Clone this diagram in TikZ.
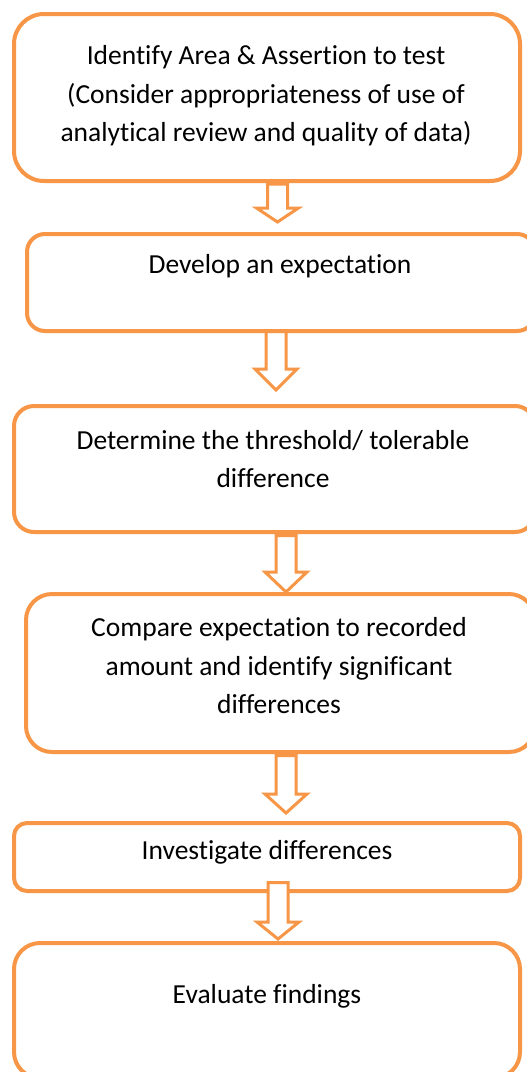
\documentclass[tikz,border=0pt]{standalone}
\usepackage{fontspec}
\setmainfont[Ligatures=NoCommon]{Carlito}
\usetikzlibrary{calc}
\definecolor{orng}{HTML}{F79646}
\tikzset{
  stepbox/.style={draw=orng, line width=4pt, fill=white, rectangle, inner sep=0pt},
  steptext/.style={align=center, font=\fontsize{27.5}{38.5}\selectfont, inner sep=0pt, text=black},
  blockarrow/.style={draw=orng, line width=3pt, fill=white, line join=miter}
}
\newcommand\flowarrow[3]{%
  \draw[blockarrow] ($(#1)+(-10,0)$) -- ($(#2)+(-10,-#3)$) -- ($(#2)+(-21,-#3)$) -- (#2)
    -- ($(#2)+(21,-#3)$) -- ($(#2)+(10,-#3)$) -- ($(#1)+(10,0)$) -- cycle;}
\begin{document}
\begin{tikzpicture}[x=1pt,y=-1pt]
\useasboundingbox (0,0) rectangle (527,1072);
\clip (0,0) rectangle (527,1072);
\fill[white] (0,0) rectangle (527,1072);
% boxes
\node[stepbox, rounded corners=30pt, minimum width=506pt, minimum height=167pt] (b1) at (267,97.5) {};
\node[stepbox, rounded corners=18pt, minimum width=508pt, minimum height=97pt] (b2) at (281,282.5) {};
\node[stepbox, rounded corners=20pt, minimum width=521pt, minimum height=126pt] (b3) at (274.5,469) {};
\node[stepbox, rounded corners=26pt, minimum width=509pt, minimum height=158pt] (b4) at (280.5,673) {};
\node[stepbox, rounded corners=13pt, minimum width=506pt, minimum height=68pt] (b5) at (267,857) {};
\node[stepbox, rounded corners=26pt, minimum width=506pt, minimum height=135pt] (b6) at (267,1010.5) {};
% texts
\node[steptext] (t1) at (266,96) {Identify Area \& Assertion to test\\(Consider appropriateness of use of\\analytical review and quality of data)};
\node[steptext] (t2) at (280,266) {Develop an expectation};
\node[steptext] (t3) at (273,459) {Determine the threshold/ tolerable\\difference};
\node[steptext] (t4) at (279,666) {Compare expectation to recorded\\amount and identify significant\\differences};
\node[steptext] (t5) at (267,852) {Investigate differences};
\node[steptext] (t6) at (267,996) {Evaluate findings};
% arrow anchors
\path (b1.south) ++(10.5,1) coordinate (s1);
\path (b2.north) ++(-3.5,-10) coordinate (e1);
\path (b2.south) ++(-5,-1.5) coordinate (s2);
\path (b3.north) ++(1.5,-14) coordinate (e2);
\path (b3.south) ++(11.5,1.5) coordinate (s3);
\path (b4.north) ++(5.5,0) coordinate (e3);
\path (b4.south) ++(5.5,1.5) coordinate (s4);
\path (b5.north) ++(19,-8) coordinate (e4);
\path (b5.south) ++(11,-10.5) coordinate (s5);
\path (b6.north) ++(11,-2) coordinate (e5);
\flowarrow{s1}{e1}{14}
\flowarrow{s2}{e2}{21}
\flowarrow{s3}{e3}{20}
\flowarrow{s4}{e4}{19}
\flowarrow{s5}{e5}{17}
\end{tikzpicture}
\end{document}
